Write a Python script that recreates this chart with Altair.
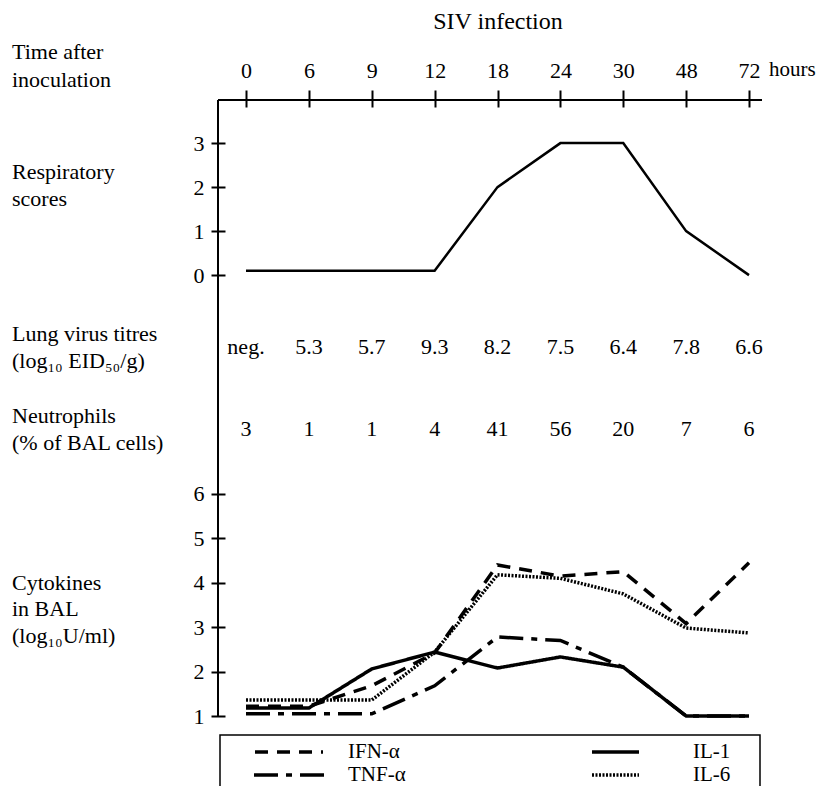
import altair as alt
import pandas as pd

# ---------------- data ----------------
times = ["0", "6", "9", "12", "18", "24", "30", "48", "72"]
resp_scores = [0.1, 0.1, 0.1, 0.1, 2, 3, 3, 1, 0]
lung_titres = ["neg.", "5.3", "5.7", "9.3", "8.2", "7.5", "6.4", "7.8", "6.6"]
neutrophils = ["3", "1", "1", "4", "41", "56", "20", "7", "6"]

cytokine_names = ["IFN-α", "TNF-α", "IL-1", "IL-6"]
ifn_a = [1.22, 1.22, 1.68, 2.42, 4.4, 4.15, 4.25, 3.08, 4.45]
tnf_a = [1.05, 1.05, 1.05, 1.68, 2.78, 2.7, 2.1, 1.0, 1.0]
il_1 = [1.18, 1.18, 2.06, 2.44, 2.08, 2.33, 2.1, 1.0, 1.0]
il_6 = [1.36, 1.36, 1.36, 2.44, 4.18, 4.1, 3.75, 2.98, 2.87]

resp_ticks = [0, 1, 2, 3]
cyto_ticks = [1, 2, 3, 4, 5, 6]

# ---------------- styling ----------------
FONT = "Liberation Serif"
FS = 22
W, H = 544, 616
dashes = [[13, 9], [24, 8, 6, 8], [1, 0], [2, 1.5]]
widths = [3.5, 3.5, 3, 3]

resp_df = pd.DataFrame({"time": times, "score": resp_scores})
rows_df = pd.DataFrame({"time": times, "titre": lung_titres, "neut": neutrophils})
cyto_df = pd.concat([
    pd.DataFrame({"time": times, "value": vals, "cytokine": name})
    for name, vals in zip(cytokine_names, [ifn_a, tnf_a, il_1, il_6])
], ignore_index=True)

dash_scale = alt.Scale(domain=cytokine_names, range=dashes)
width_scale = alt.Scale(domain=cytokine_names, range=widths)

x_axis = alt.Axis(orient="top", title=None, labelAngle=0, offset=-7, tickSize=17,
                  tickWidth=2, tickColor="black", domain=False, labelPadding=8,
                  labelFont=FONT, labelFontSize=FS, labelColor="black", grid=False)
x_enc = alt.X("time:N", sort=times,
              scale=alt.Scale(type="point", domain=times, padding=0.326, align=0.683),
              axis=x_axis)


def y_axis(vals):
    return alt.Axis(orient="left", values=vals, offset=-7, tickSize=14, tickWidth=2,
                    tickColor="black", domain=False, grid=False, title=None,
                    labelPadding=7, labelFont=FONT, labelFontSize=FS,
                    labelColor="black", format="d")


resp = alt.Chart(resp_df).mark_line(color="black", strokeWidth=2.5).encode(
    x=x_enc,
    y=alt.Y("score:Q", scale=alt.Scale(domain=[-10.02, 3.98], nice=False, zero=False),
            axis=y_axis(resp_ticks)),
)

cyto = alt.Chart(cyto_df).mark_line(color="black").encode(
    x=x_enc,
    y=alt.Y("value:Q", scale=alt.Scale(domain=[1, 14.87], nice=False, zero=False),
            axis=y_axis(cyto_ticks)),
    strokeDash=alt.StrokeDash("cytokine:N", scale=dash_scale, legend=None),
    strokeWidth=alt.StrokeWidth("cytokine:N", scale=width_scale, legend=None),
)

one = pd.DataFrame({"a": [0]})
top_rule = alt.Chart(one).mark_rule(color="black", strokeWidth=2).encode(
    x=alt.value(0), x2=alt.value(W), y=alt.value(0))
left_rule = alt.Chart(one).mark_rule(color="black", strokeWidth=2).encode(
    x=alt.value(0), y=alt.value(0), y2=alt.value(H))

titre_text = alt.Chart(rows_df).mark_text(font=FONT, fontSize=FS, color="black",
                                          baseline="middle").encode(
    x=x_enc, y=alt.value(247), text="titre:N")
neut_text = alt.Chart(rows_df).mark_text(font=FONT, fontSize=FS, color="black",
                                         baseline="middle").encode(
    x=x_enc, y=alt.value(329), text="neut:N")


def label(txt, x, y, size=FS, align="left"):
    return alt.Chart(pd.DataFrame({"t": [txt]})).mark_text(
        font=FONT, fontSize=size, align=align, baseline="middle", color="black"
    ).encode(x=alt.value(x), y=alt.value(y), text="t:N")


labels = [
    label("SIV infection", 280, -78, size=24, align="center"),
    label("hours", 551, -30, size=21),
    label("Time after", -206, -48),
    label("inoculation", -206, -20),
    label("Respiratory", -206, 72),
    label("scores", -206, 99),
    label("Lung virus titres", -206, 234),
    label("(log₁₀ EID₅₀/g)", -206, 261),
    label("Neutrophils", -206, 316),
    label("(% of BAL cells)", -206, 343),
    label("Cytokines", -206, 483),
    label("in BAL", -206, 509),
    label("(log₁₀U/ml)", -206, 536),
]

# ---------------- legend (drawn as a boxed key) ----------------
legend_box = alt.Chart(one).mark_rect(filled=False, stroke="black", strokeWidth=1.5).encode(
    x=alt.value(2), x2=alt.value(542), y=alt.value(635), y2=alt.value(720))


def legend_entry(name, x1, x2, y, tx):
    d = pd.DataFrame({"cytokine": [name]})
    line = alt.Chart(d).mark_rule(color="black").encode(
        x=alt.value(x1), x2=alt.value(x2), y=alt.value(y),
        strokeDash=alt.StrokeDash("cytokine:N", scale=dash_scale, legend=None),
        strokeWidth=alt.StrokeWidth("cytokine:N", scale=width_scale, legend=None),
    )
    return [line, label(name, tx, y, size=21)]


legend_layers = (
    legend_entry("IFN-α", 37, 105, 652, 130)
    + legend_entry("TNF-α", 36, 109, 675, 130)
    + legend_entry("IL-1", 374, 421, 652, 475)
    + legend_entry("IL-6", 374, 421, 675, 475)
)

chart = alt.layer(
    top_rule, left_rule, resp, cyto, titre_text, neut_text, *labels,
    legend_box, *legend_layers
).resolve_scale(
    y="independent"
).properties(
    width=W, height=H,
    autosize=alt.AutoSizeParams(type="none"),
    padding={"left": 210, "top": 92, "right": 56, "bottom": 70},
).configure_view(stroke=None)

chart.save("out.html", embed_options={"renderer": "svg", "actions": False})
